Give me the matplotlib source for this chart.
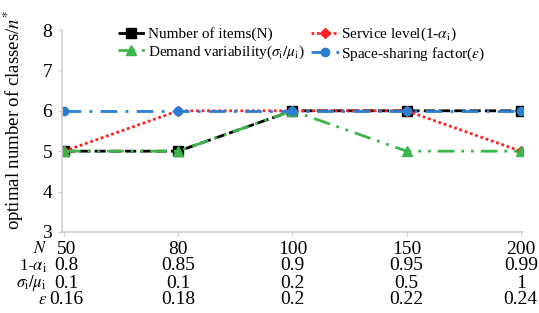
import matplotlib
matplotlib.use("Agg")
import matplotlib.pyplot as plt

plt.rcParams['font.family'] = 'serif'
plt.rcParams['font.serif'] = ['Liberation Serif', 'Times New Roman', 'DejaVu Serif']
plt.rcParams['mathtext.fontset'] = 'stix'

positions = [0, 1, 2, 3, 4]
n_items = [5, 5, 6, 6, 6]
service_level = [5, 6, 6, 6, 5]
demand_var = [5, 5, 6, 5, 5]
space_sharing = [6, 6, 6, 6, 6]

row_labels = [r'$N$', r'1-$\alpha_{\rm i}$', r'$\sigma_{\rm i}/\mu_{\rm i}$', r'$\varepsilon$']
row_N = ['50', '80', '100', '150', '200']
row_alpha = ['0.8', '0.85', '0.9', '0.95', '0.99']
row_sigma = ['0.1', '0.1', '0.2', '0.5', '1']
row_eps = ['0.16', '0.18', '0.2', '0.22', '0.24']

fig = plt.figure(figsize=(5.39, 3.13), dpi=100)
ax = fig.add_axes([0.115, 0.259, 0.855, 0.645])

l1, = ax.plot(positions, n_items, color='black', linestyle=(0, (4, 1.5)), linewidth=2,
              marker='s', markersize=6.5, markerfacecolor='black', label='Number of items(N)')
l2, = ax.plot(positions, service_level, color='#ff2020', linestyle=(0, (1, 1)), linewidth=2,
              marker='D', markersize=5, label=r'Service level(1-$\alpha_{\rm i}$)')
l3, = ax.plot(positions, demand_var, color='#3cb54a', linestyle=(0, (6, 2.5, 1, 2.5, 1, 2.5)), linewidth=2,
              marker='^', markersize=6.5, label=r'Demand variability($\sigma_{\rm i}/\mu_{\rm i}$)')
l4, = ax.plot(positions, space_sharing, color='#2a7fd4', linestyle=(0, (6, 3, 1, 3)), linewidth=2,
              marker='o', markersize=6, label=r'Space-sharing factor($\varepsilon$)')

ax.set_xlim(-0.018, 4.018)
ax.set_ylim(3, 8)
ax.set_yticks([3, 4, 5, 6, 7, 8])
ax.set_yticklabels(['3', '4', '5', '6', '7', '8'], fontsize=14)
ax.set_xticks(positions)
ax.set_xticklabels([])
ax.tick_params(axis='x', length=3, color='#d0d0d0', direction='out')
ax.tick_params(axis='y', length=3, color='#d0d0d0', pad=4)
for s in ['top', 'right']:
    ax.spines[s].set_visible(False)
for s in ['left', 'bottom']:
    ax.spines[s].set_color('#d0d0d0')
    ax.spines[s].set_linewidth(1.2)

ax.set_ylabel(r'optimal number of classes/$n^{*}$', fontsize=13.5)
ax.yaxis.set_label_coords(-0.078, 0.555)

handles = [l1, l3, l2, l4]
leg = ax.legend(handles, [h.get_label() for h in handles], loc='upper left',
                bbox_to_anchor=(0.121, 1.02), ncol=2, frameon=False,
                fontsize=11, handlelength=1.8, handletextpad=0.15, columnspacing=0.45,
                labelspacing=0.15, borderpad=0, borderaxespad=0)

rows = [row_N, row_alpha, row_sigma, row_eps]
row_y = [249, 266, 283, 300]
for lab, vals, ypx in zip(row_labels, rows, row_y):
    yf = 1 - ypx / 313
    fig.text(47 / 539, yf, lab, ha='right', va='center', fontsize=12)
    for p, v in zip(positions, vals):
        xd = ax.transData.transform((p, 0))[0]
        xf = fig.transFigure.inverted().transform((xd, 0))[0]
        shift = 0.005 if p == positions[0] else 0.0
        fig.text(xf + shift, yf, v, ha='center', va='center', fontsize=14)

fig.savefig('out.png', dpi=100)
